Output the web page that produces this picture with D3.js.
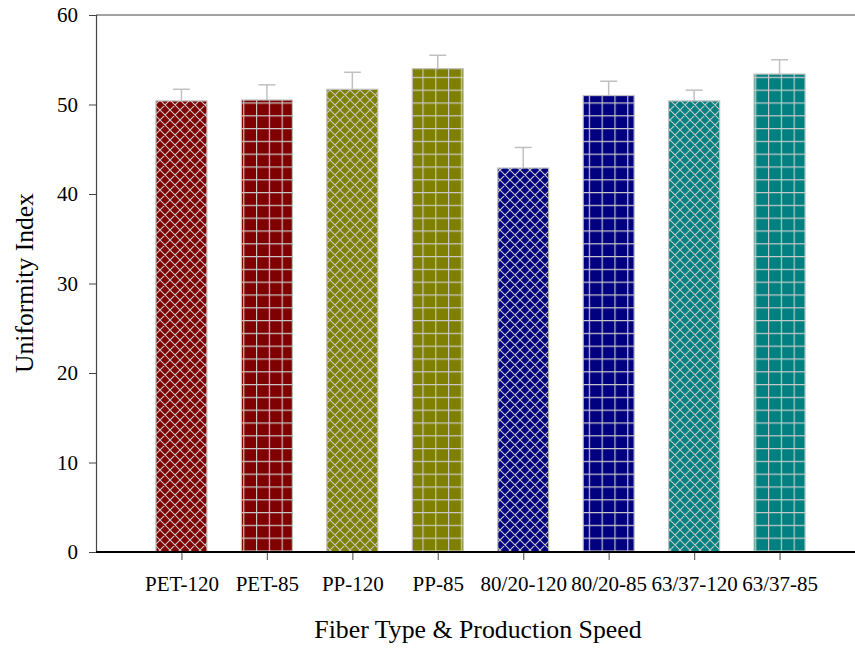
<!DOCTYPE html>
<html><head><meta charset="utf-8">
<script src="https://cdn.jsdelivr.net/npm/d3@7"></script>
<style>body{margin:0;background:#fff}svg{display:block}text{font-family:"Liberation Serif","Times New Roman",serif;fill:#000}</style>
</head><body><svg id="c" width="855" height="648"></svg>
<script>
const categories = ["PET-120","PET-85","PP-120","PP-85","80/20-120","80/20-85","63/37-120","63/37-85"];
const values = [50.4, 50.5, 51.7, 54.0, 42.9, 51.0, 50.4, 53.4];
const errors = [1.3, 1.7, 1.9, 1.5, 2.3, 1.6, 1.2, 1.6];
const colors = ["#800000","#800000","#808000","#808000","#000080","#000080","#008080","#008080"];
const patterns = ["cross","grid","cross","grid","cross","grid","cross","grid"];
const yTicks = [0,10,20,30,40,50,60];

const svg = d3.select("#c");
const x0 = 96, yTop = 15, yBot = 552;
const x = d3.scaleLinear().domain([0, 9]).range([x0, 865]);
const y = d3.scaleLinear().domain([0, 60]).range([yBot, yTop]);
const barW = 51;

const defs = svg.append("defs");
colors.forEach((c, i) => {
  const p = defs.append("pattern").attr("id", "p" + i).attr("patternUnits", "userSpaceOnUse");
  if (patterns[i] === "cross") {
    p.attr("width", 10).attr("height", 10);
    p.append("rect").attr("width", 10).attr("height", 10).attr("fill", c);
    p.append("path").attr("d", "M0,0L10,10M10,0L0,10M-5,5L0,10M5,-5L10,0M5,15L10,10")
      .attr("stroke", "#c8c8c8").attr("stroke-width", 1.1).attr("fill", "none");
  } else {
    p.attr("width", 12.8).attr("height", 12.8);
    p.append("rect").attr("width", 12.8).attr("height", 12.8).attr("fill", c);
    p.append("path").attr("d", "M0,0.5H12.8M0.5,0V12.8")
      .attr("stroke", "#c8c8c8").attr("stroke-width", 1.3).attr("fill", "none");
  }
});

// bars
const g = svg.append("g");
categories.forEach((cat, i) => {
  const cx = x(i + 1);
  g.append("line").attr("x1", cx).attr("x2", cx).attr("y1", y(values[i])).attr("y2", y(values[i] + errors[i]))
    .attr("stroke", "#c0c0c0").attr("stroke-width", 1.5);
  g.append("line").attr("x1", cx - 8.5).attr("x2", cx + 8.5).attr("y1", y(values[i] + errors[i])).attr("y2", y(values[i] + errors[i]))
    .attr("stroke", "#c0c0c0").attr("stroke-width", 1.5);
  g.append("rect").attr("x", cx - barW / 2).attr("y", y(values[i])).attr("width", barW).attr("height", yBot - y(values[i]))
    .attr("fill", "url(#p" + i + ")").attr("stroke", "#c0c0c0").attr("stroke-width", 1.2);
});

// top frame
svg.append("line").attr("x1", x0).attr("x2", 855).attr("y1", yTop).attr("y2", yTop).attr("stroke", "#444").attr("stroke-width", 1);

// y axis
const ya = svg.append("g").attr("transform", `translate(${x0},0)`)
  .call(d3.axisLeft(y).tickValues(yTicks).tickSize(7).tickPadding(11).tickFormat(d3.format("d")));
ya.select(".domain").attr("stroke", "#444").attr("stroke-width", 1.2);
ya.selectAll(".tick line").attr("stroke", "#444");
ya.selectAll("text").attr("font-size", null).attr("font-family", null).style("font-size", "21px").style("font-family", "Liberation Serif");

// x axis
const xa = svg.append("g").attr("transform", `translate(0,${yBot})`)
  .call(d3.axisBottom(x).tickValues(d3.range(1, 9)).tickSize(8).tickPadding(16).tickFormat(d => categories[d - 1]));
xa.select(".domain").remove();
xa.selectAll(".tick line").attr("stroke", "#666").attr("stroke-width", 1.2);
xa.selectAll("text").style("font-size", "21px").style("font-family", "Liberation Serif");
svg.append("line").attr("x1", x0).attr("x2", 855).attr("y1", yBot).attr("y2", yBot).attr("stroke", "#000").attr("stroke-width", 2);

// titles
svg.append("text").attr("x", 478).attr("y", 638).attr("text-anchor", "middle").style("font-size", "25.8px")
  .text("Fiber Type & Production Speed");
svg.append("text").attr("transform", "translate(33,283) rotate(-90)").attr("text-anchor", "middle").style("font-size", "25.6px")
  .text("Uniformity Index");
</script></body></html>
